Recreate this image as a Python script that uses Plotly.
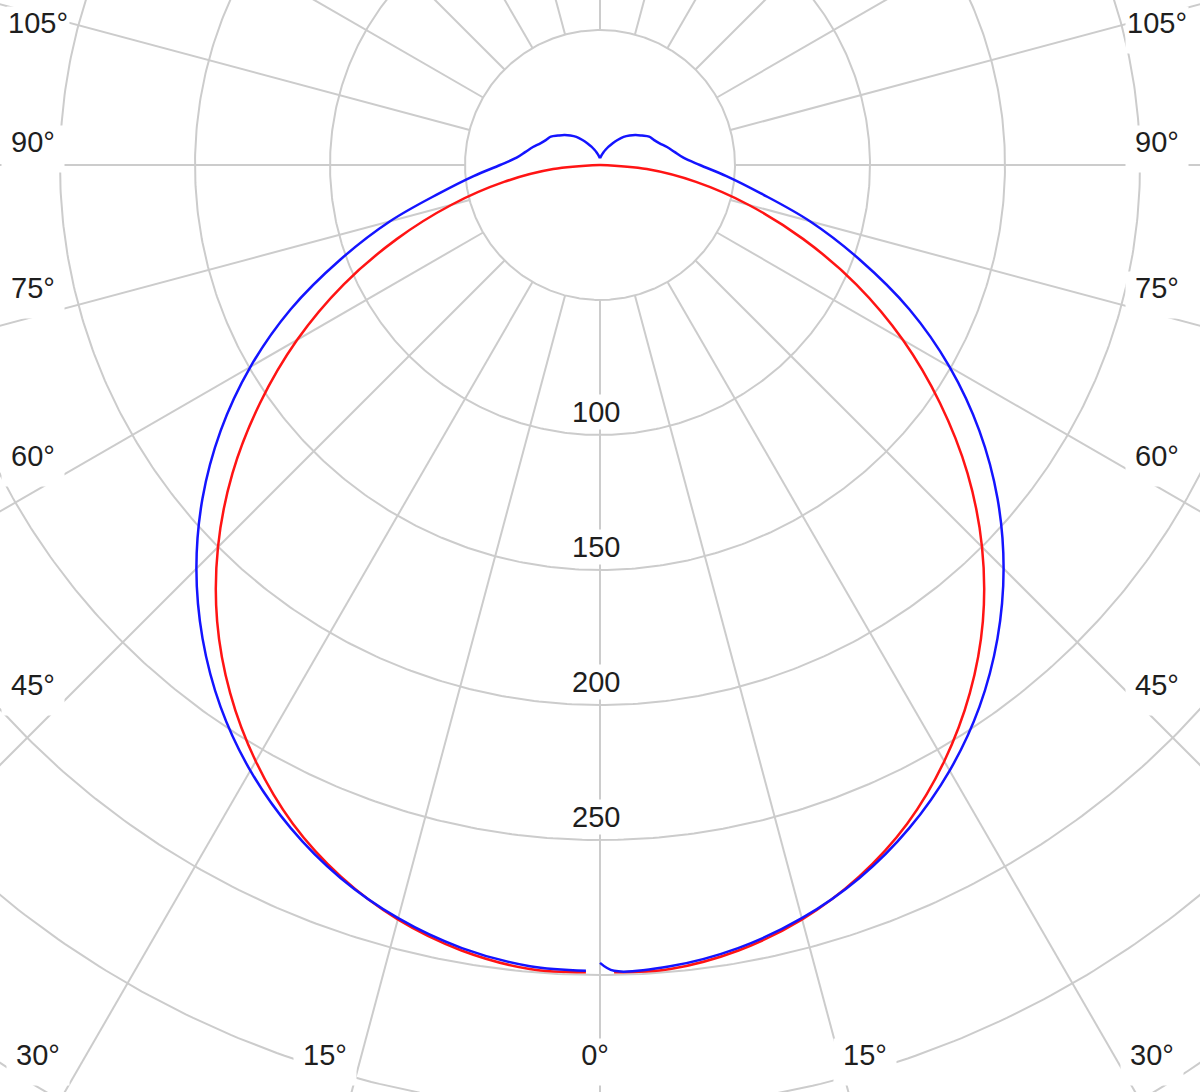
import numpy as np
import plotly.graph_objects as go

# ---- data (candela values) ----
red_angles = [1, 5, 10, 15, 20, 25, 30, 35, 40, 45, 50, 55, 60, 65, 70, 75, 80, 85, 90]
red_c0_c180 = [299, 298.9, 295.4, 289.3, 280.5, 269.2, 255, 238.8, 220.6, 200.1, 177.7, 153.7, 129.5,
               104.8, 80, 56.9, 36.1, 17.4, 0]

blue_angles = [0, 1, 5, 10, 15, 20, 25, 30, 35, 40, 45, 50, 55, 60, 65, 70, 75, 80, 85, 90,
               95, 100, 105, 110, 115, 120, 125, 130, 135, 140, 145, 150, 155, 160, 165, 170, 175, 180]
blue_c90_c270 = [295.5, 298.5, 297.9, 294.5, 288.8, 281, 271, 259, 245, 229, 211.4, 192.2, 171.5, 149.5,
                 126.4, 102.3, 80.5, 60.5, 47, 37, 31, 28, 25.7, 23.5, 22, 21, 19, 17.3, 15.5, 13.6,
                 11.3, 9.2, 7.5, 6, 4.8, 3.8, 3, 2.5]

ring_values = [50, 100, 150, 200, 250, 300, 350, 400, 450]
ring_labels = [100, 150, 200, 250]
angle_step = 15
angle_labels_left = ["105°", "90°", "75°", "60°", "45°", "30°", "15°", "0°"]
angle_labels_right = ["105°", "90°", "75°", "60°", "45°", "30°", "15°"]

# ---- layout geometry ----
W, H = 1200, 1092
CX, CY = 600, 165          # pixel position of the pole
PX_PER_UNIT = 2.7

FONT = "Liberation Sans Narrow, Liberation Sans, sans-serif"
FONT_SIZE = 29
GRID = "#cccccc"
TEXT = "#1e1e1e"

fig = go.Figure()

# grid circles
t = np.linspace(0, 2 * np.pi, 721)
for r in ring_values:
    fig.add_trace(go.Scatter(x=r * np.sin(t), y=r * np.cos(t), mode="lines",
                             line=dict(color=GRID, width=2), hoverinfo="skip", showlegend=False))

# spokes every 15 degrees starting from the inner ring
sx, sy = [], []
for a in range(0, 360, angle_step):
    ar = np.deg2rad(a)
    sx += [ring_values[0] * np.sin(ar), 700 * np.sin(ar), None]
    sy += [-ring_values[0] * np.cos(ar), -700 * np.cos(ar), None]
fig.add_trace(go.Scatter(x=sx, y=sy, mode="lines", line=dict(color=GRID, width=2),
                         hoverinfo="skip", showlegend=False))


def to_xy(angles, values, side):
    a = np.deg2rad(np.array(angles, dtype=float))
    v = np.array(values, dtype=float)
    return side * v * np.sin(a), -v * np.cos(a)


RED = "#ff1414"
BLUE = "#1414ff"
SMOOTH = 1.0

# red curve (C0 / C180)
for side in (-1, 1):
    x, y = to_xy(red_angles, red_c0_c180, side)
    fig.add_trace(go.Scatter(x=x, y=y, mode="lines",
                             line=dict(color=RED, width=2.5, shape="spline", smoothing=SMOOTH),
                             hoverinfo="skip", showlegend=False))

# blue curve (C90 / C270); left half starts at 1 degree
x, y = to_xy(blue_angles[1:], blue_c90_c270[1:], -1)
fig.add_trace(go.Scatter(x=x, y=y, mode="lines",
                         line=dict(color=BLUE, width=2.5, shape="spline", smoothing=SMOOTH),
                         hoverinfo="skip", showlegend=False))
x, y = to_xy(blue_angles, blue_c90_c270, 1)
fig.add_trace(go.Scatter(x=x, y=y, mode="lines",
                         line=dict(color=BLUE, width=2.5, shape="spline", smoothing=SMOOTH),
                         hoverinfo="skip", showlegend=False))

annotations = []
# radial value labels above their rings on the 0 degree spoke
for v in ring_labels:
    annotations.append(dict(x=0, y=-v, xref="x", yref="y", text=str(v), showarrow=False,
                            xshift=-4, yshift=23, bgcolor="white", borderpad=1,
                            font=dict(family=FONT, size=FONT_SIZE, color=TEXT)))

# angle labels around the frame (pixel centres of the text); each sits at the top of a white box
left_pos = [(38, 20), (33, 139), (33, 285), (33, 453), (33, 682), (38, 1052), (325, 1052), (595, 1052)]
right_pos = [(1157, 20), (1157, 139), (1157, 285), (1157, 453), (1157, 682), (1152, 1052), (865, 1052)]
for txt, (px, py) in list(zip(angle_labels_left, left_pos)) + list(zip(angle_labels_right, right_pos)):
    annotations.append(dict(x=px / W, y=1 - (py - 14) / H, xref="paper", yref="paper", text=txt,
                            showarrow=False, xanchor="center", yanchor="top",
                            width=62, height=46, valign="top", align="center",
                            bgcolor="white", borderpad=0,
                            font=dict(family=FONT, size=FONT_SIZE, color=TEXT)))

fig.update_layout(
    width=W, height=H,
    margin=dict(l=0, r=0, t=0, b=0),
    paper_bgcolor="white", plot_bgcolor="white",
    xaxis=dict(range=[-CX / PX_PER_UNIT, (W - CX) / PX_PER_UNIT], visible=False, fixedrange=True),
    yaxis=dict(range=[-(H - CY) / PX_PER_UNIT, CY / PX_PER_UNIT], visible=False, fixedrange=True),
    annotations=annotations,
    showlegend=False,
)

fig.write_html("out.html", config={"displayModeBar": False},
               post_script="document.body.style.margin='0px';document.body.style.overflow='hidden';")
